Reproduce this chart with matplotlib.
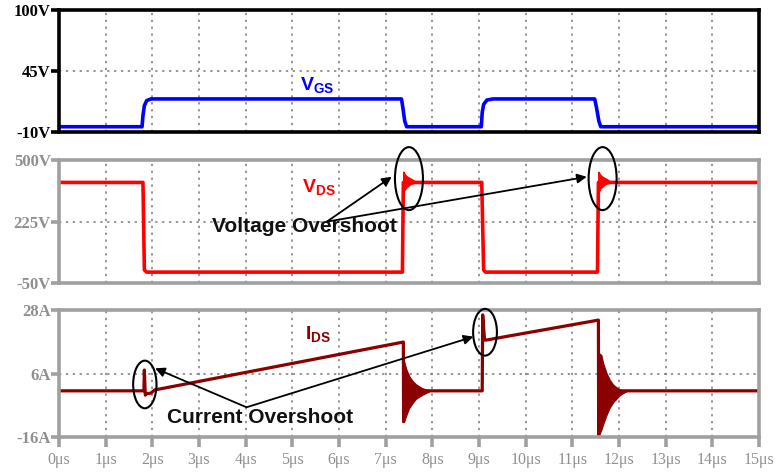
import matplotlib as mpl
mpl.use('Agg')
import matplotlib.pyplot as plt
from matplotlib.patches import Ellipse

mpl.rc('font', family='Liberation Sans', size=10)
mpl.rc('mathtext', fontset='custom', rm='Liberation Sans', bf='Liberation Sans:bold')

# time axis (us)
TIME_TICKS = list(range(16))
TIME_LABELS = ['{}\u03bcs'.format(t) for t in TIME_TICKS]

# gate-source voltage
VGS_T = [0, 1.78, 1.80, 1.83, 1.88, 1.97, 7.34, 7.37, 7.41, 7.45,
         9.05, 9.07, 9.10, 9.17, 9.30, 11.48, 11.52, 11.57, 11.61, 15]
VGS_V = [-5, -5, 5, 14, 18.5, 20, 20, 12, 0, -5,
         -5, 8, 15, 19, 20, 20, 12, 0, -5, -5]
VGS_TICKS = [-10, 45, 100]
VGS_LABELS = ['-10V', '45V', '100V']

# drain-source voltage
VDS_T = [0, 1.80, 1.83, 1.88, 7.36, 7.38, 9.06, 9.10, 9.14, 11.54, 11.56, 15]
VDS_V = [400, 400, 10, 0, 0, 400, 400, 10, 0, 0, 400, 400]
VDS_RING1_T = [7.38, 7.41, 7.45, 7.49, 7.52, 7.56, 7.64]
VDS_RING1_UP = [447, 435, 427, 422, 418, 414, 402]
VDS_RING1_LO = [358, 370, 380, 387, 392, 396, 400]
VDS_RING2_T = [11.56, 11.59, 11.63, 11.67, 11.70, 11.74, 11.82]
VDS_RING2_UP = [447, 435, 427, 422, 418, 414, 402]
VDS_RING2_LO = [358, 370, 380, 387, 392, 396, 400]
VDS_TICKS = [-50, 225, 500]
VDS_LABELS = ['-50V', '225V', '500V']

# drain current
IDS_T = [0, 1.82, 1.83, 1.85, 1.87, 1.97, 2.05, 7.38, 7.385, 7.40,
         9.07, 9.08, 9.12, 9.16, 11.56, 11.565, 11.58, 15]
IDS_I = [0, 0, 7.2, -1.5, -1.0, -0.8, 0.3, 16.9, -10.7, 0,
         0, 26.3, 17.6, 17.6, 24.5, -15.3, 0, 0]
IDS_RING1_T = [7.39, 7.44, 7.50, 7.57, 7.65, 7.78, 7.95]
IDS_RING1_UP = [10.5, 7.5, 5.2, 3.5, 2.2, 0.9, 0]
IDS_RING1_LO = [-10.7, -8.5, -6.0, -4.3, -2.7, -1.4, 0]
IDS_RING2_T = [11.57, 11.62, 11.66, 11.73, 11.80, 11.88, 12.02, 12.17]
IDS_RING2_UP = [13, 12.4, 9.5, 6.2, 3.8, 2.0, 0.3, 0]
IDS_RING2_LO = [-15.3, -13.5, -11.5, -8.4, -5.8, -3.8, -1.4, 0]
IDS_TICKS = [-16, 6, 28]
IDS_LABELS = ['-16A', '6A', '28A']

BLUE = '#0000ff'
RED = '#ff0000'
DARK_RED = '#8b0000'
GREY = '#a0a0a0'
GREY_TEXT = '#8f8f8f'


def main():
    fig = plt.figure(figsize=(7.8, 4.73), dpi=100)
    ax_gs = fig.add_axes([0.0756, 0.7203, 0.8974, 0.2586])
    ax_ds = fig.add_axes([0.0756, 0.4010, 0.8974, 0.2607])
    ax_id = fig.add_axes([0.0756, 0.0761, 0.8974, 0.2685])

    panel_settings(ax_gs, VGS_TICKS, VGS_LABELS, 'black', 'black', xlabels=False)
    panel_settings(ax_ds, VDS_TICKS, VDS_LABELS, GREY, GREY_TEXT, xlabels=False)
    panel_settings(ax_id, IDS_TICKS, IDS_LABELS, GREY, GREY_TEXT, xlabels=True)

    # VGS
    ax_gs.plot(VGS_T, VGS_V, color=BLUE, lw=2.6, solid_joinstyle='round')
    ax_gs.text(5.16, 27.4, r'$\mathbf{V}_{\mathbf{GS}}$', color=BLUE, fontsize=14)

    # VDS
    ax_ds.plot(VDS_T, VDS_V, color=RED, lw=2.6, solid_joinstyle='round')
    ax_ds.fill_between(VDS_RING1_T, VDS_RING1_LO, VDS_RING1_UP, color=RED, lw=1.2)
    ax_ds.fill_between(VDS_RING2_T, VDS_RING2_LO, VDS_RING2_UP, color=RED, lw=1.2)
    ax_ds.text(5.2, 352, r'$\mathbf{V}_{\mathbf{DS}}$', color=RED, fontsize=14)
    overshoot(ax_ds, 'Voltage Overshoot', (5.27, 180), (5.74, 225),
              [(7.13, 425), (11.31, 425)],
              [(7.50, 417, 0.60, 281), (11.65, 417, 0.60, 281)])

    # IDS
    ax_id.plot(IDS_T, IDS_I, color=DARK_RED, lw=2.3, solid_joinstyle='round')
    ax_id.fill_between(IDS_RING1_T, IDS_RING1_LO, IDS_RING1_UP, color=DARK_RED, lw=1)
    ax_id.fill_between(IDS_RING2_T, IDS_RING2_LO, IDS_RING2_UP, color=DARK_RED, lw=1)
    ax_id.text(5.27, 17.8, r'$\mathbf{I}_{\mathbf{DS}}$', color=DARK_RED, fontsize=14)
    overshoot(ax_id, 'Current Overshoot', (4.32, -11.3), (4.02, -5.7),
              [(2.06, 7.8), (8.88, 18.75)],
              [(1.84, 2.2, 0.50, 16.5), (9.13, 20.3, 0.51, 16.2)])

    fig.savefig('out.png', dpi=100)


def overshoot(ax, label, text_xy, origin, targets, rings):
    """Label, arrows and circled regions for an overshoot"""
    ax.text(text_xy[0], text_xy[1], label, fontsize=15, fontweight='bold',
            ha='center', va='baseline', color='#111111', zorder=6)
    for end in targets:
        ax.annotate('', xy=end, xytext=origin, annotation_clip=False,
                    arrowprops=dict(arrowstyle='-|>', color='black', lw=1.3,
                                    mutation_scale=14, shrinkA=0, shrinkB=0))
    for cx, cy, w, h in rings:
        ax.add_patch(Ellipse((cx, cy), w, h, fill=False, ec='black', lw=1.5,
                             clip_on=False, zorder=5))


def panel_settings(ax, yticks, ylabels, frame_color, text_color, xlabels):
    """Shared frame, grid and tick settings"""
    ax.set_xlim(0, 15)
    ax.set_ylim(yticks[0], yticks[-1])
    ax.set_xticks(TIME_TICKS)
    ax.set_yticks(yticks)
    ax.set_yticklabels(ylabels, family='Liberation Serif', fontweight='bold',
                       fontsize=12, color=text_color)
    ax.grid(True, color='#7a7a7a', lw=1.1, linestyle=(0, (1.5, 3)))
    ax.set_axisbelow(True)
    for spine in ax.spines.values():
        spine.set_color(frame_color)
        spine.set_linewidth(2.6)
    ax.tick_params(axis='y', direction='out', length=6, width=2.6,
                   color=frame_color, pad=0)
    if xlabels:
        ax.set_xticklabels(TIME_LABELS, family='Liberation Serif', fontsize=11.5,
                           color=text_color)
        ax.tick_params(axis='x', direction='out', length=7, width=2.6,
                       color=frame_color, pad=4)
    else:
        ax.set_xticklabels([])
        ax.tick_params(axis='x', length=0)


if __name__ == '__main__':
    main()
